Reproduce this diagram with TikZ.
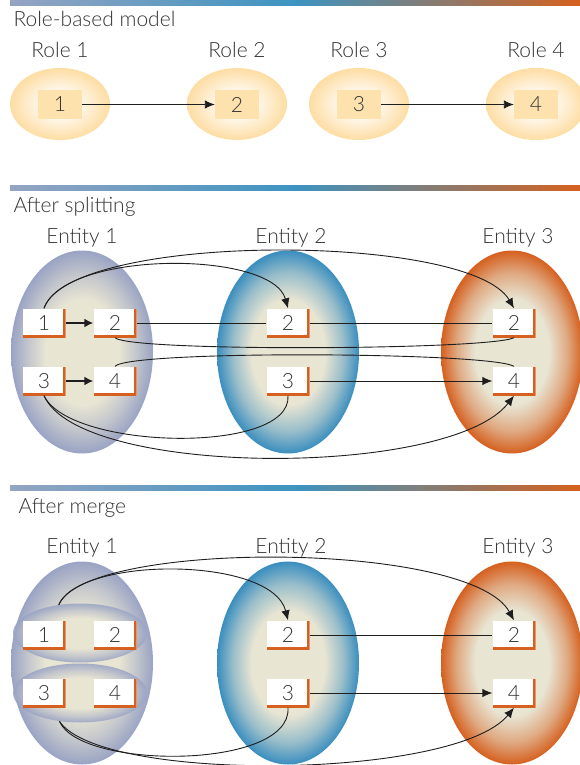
\documentclass[tikz,border=0pt]{standalone}
\usepackage{fontspec}
\setmainfont{Lato}[UprightFont={* Light}]
\usepackage{tikz}
\usetikzlibrary{shapes.geometric,arrows.meta}

\definecolor{txtgray}{HTML}{333333}
\definecolor{linegray}{HTML}{1E1E1E}
\definecolor{barleft}{HTML}{95A4C2}
\definecolor{barmid}{HTML}{3D94C1}
\definecolor{barright}{HTML}{D5611E}
\definecolor{eorange}{HTML}{D5601F}
\definecolor{eblue}{HTML}{3A8EBF}
\definecolor{egray}{HTML}{99A3C4}
\definecolor{ecream}{HTML}{E8E5D3}
\definecolor{rolefill}{HTML}{FDE2AE}
\definecolor{rolecore}{HTML}{FFF7EA}
\definecolor{roleedge}{HTML}{FDDDA3}
\colorlet{eorangemid}{eorange!45!ecream}
\colorlet{ebluemid}{eblue!45!ecream}
\colorlet{egraymid}{egray!50!ecream}

% glow of the role balls and the three entities
\pgfdeclareradialshading{roleglow}{\pgfpoint{0bp}{0bp}}{color(0bp)=(rolecore); color(10bp)=(rolecore); color(25bp)=(roleedge); color(50bp)=(roleedge)}
\pgfdeclareradialshading{entgray}{\pgfpoint{0bp}{0bp}}{color(0bp)=(ecream); color(13bp)=(ecream); color(19.5bp)=(egraymid); color(25bp)=(egray); color(50bp)=(egray)}
\pgfdeclareradialshading{entblue}{\pgfpoint{0bp}{0bp}}{color(0bp)=(ecream); color(13bp)=(ecream); color(19.5bp)=(ebluemid); color(25bp)=(eblue); color(50bp)=(eblue)}
\pgfdeclareradialshading{entorange}{\pgfpoint{0bp}{0bp}}{color(0bp)=(ecream); color(13bp)=(ecream); color(19.5bp)=(eorangemid); color(25bp)=(eorange); color(50bp)=(eorange)}

\begin{document}
\begin{tikzpicture}[x=1pt,y=-1pt,
    font=\fontsize{21}{25}\selectfont, text=txtgray,
    heading/.style={anchor=base west},
    caption/.style={anchor=base},
    roleball/.style={ellipse,inner sep=0,minimum width=100,minimum height=72,shade,shading=roleglow},
    rolebox/.style={fill=rolefill,inner sep=0,minimum width=44,minimum height=29},
    entity/.style={ellipse,inner sep=0,minimum width=142,minimum height=203,shade},
    subgroup/.style={ellipse,inner sep=0,minimum width=134,minimum height=59,shade,shading=entgray,opacity=0.85},
    ebox/.style={fill=white,inner sep=0,minimum width=43,minimum height=29,
      path picture={\draw[eorange,line width=6]
        (path picture bounding box.north east) -- (path picture bounding box.south east)
        -- (path picture bounding box.south west);}},
    wire/.style={draw=linegray,line width=0.9},
    wirearrow/.style={wire,-{Latex[length=10pt,width=8.5pt]}},
    fatarrow/.style={draw=linegray,line width=2.5,-{Latex[length=9pt,width=9pt]}},
    bar/.style={left color=barleft,right color=barright,middle color=barmid}]
  \useasboundingbox (0,0) rectangle (580,765);

  % role-based model
  \shade[bar] (10,0) rectangle (580,6);
  \node[heading] (rtitle) at (10,27) {Role-based model};
  \foreach \i/\x in {1/60,2/237,3/359,4/536} {
    \node[roleball] (rball\i) at (\x,104) {};
    \node[rolebox] (rbox\i) at (\x,104.5) {\i};
    \node[caption] (rlabel\i) at (\x,58) {Role \i};
  }
  \draw[wirearrow] (rbox1) -- (rbox2);
  \draw[wirearrow] (rbox3) -- (rbox4);

  % after splitting
  \shade[bar] (10,185) rectangle (580,190);
  \node[heading] (stitle) at (10,212) {After splitting};
  \node[entity,shading=entgray] (sent1) at (82,352) {};
  \node[entity,shading=entblue] (sent2) at (288,352) {};
  \node[entity,shading=entorange] (sent3) at (512,352) {};
  \node[caption] (slabel1) at (82,243) {Entity 1};
  \node[caption] (slabel2) at (291,243) {Entity 2};
  \node[caption] (slabel3) at (518,243) {Entity 3};
  \node[ebox] (s11) at (44,323) {1};
  \node[ebox] (s12) at (115,323) {2};
  \node[ebox] (s13) at (44,381) {3};
  \node[ebox] (s14) at (115,381) {4};
  \node[ebox] (s22) at (288,323) {2};
  \node[ebox] (s23) at (288,381) {3};
  \node[ebox] (s32) at (514,323) {2};
  \node[ebox] (s34) at (514,381) {4};
  \draw[fatarrow] (s11) -- (s12);
  \draw[fatarrow] (s13) -- (s14);
  \draw[wirearrow] (s11.north) .. controls (65,250) and (272,250) .. (s22.north);
  \draw[wirearrow] (s11.north) .. controls (70,232) and (470,232) .. (s32.north);
  \draw[wire] (s12) -- (s22);
  \draw[wire] (s22) -- (s32);
  \draw[wire] (s12.south) .. controls (130,352) and (490,350) .. (s32.south);
  \draw[wire] (s14.north) .. controls (130,350) and (490,352) .. (s34.north);
  \draw[wirearrow] (s23) -- (s34);
  \draw[wire] (s13.south) .. controls (70,450) and (292,455) .. (s23.south);
  \draw[wirearrow] (s13.south) .. controls (80,478) and (450,478) .. (s34.south);

  % after merge
  \shade[bar] (10,485) rectangle (580,490);
  \node[heading] (mtitle) at (15,513) {After merge};
  \node[entity,shading=entgray] (ment1) at (82,663) {};
  \node[entity,shading=entblue] (ment2) at (288,663) {};
  \node[entity,shading=entorange] (ment3) at (512,663) {};
  \node[caption] (mlabel1) at (82,553) {Entity 1};
  \node[caption] (mlabel2) at (291,553) {Entity 2};
  \node[caption] (mlabel3) at (518,553) {Entity 3};
  \node[subgroup] (mup) at (80,633) {};
  \node[subgroup] (mlow) at (80,693) {};
  \node[ebox] (m11) at (44,635) {1};
  \node[ebox] (m12) at (115,635) {2};
  \node[ebox] (m13) at (44,693) {3};
  \node[ebox] (m14) at (115,693) {4};
  \node[ebox] (m22) at (288,635) {2};
  \node[ebox] (m23) at (288,693) {3};
  \node[ebox] (m32) at (514,635) {2};
  \node[ebox] (m34) at (514,693) {4};
  \draw[wirearrow] (mup.127) .. controls (80,556) and (272,556) .. (m22.north);
  \draw[wirearrow] (mup.127) .. controls (85,540) and (470,540) .. (m32.north);
  \draw[wire] (m22) -- (m32);
  \draw[wirearrow] (m23) -- (m34);
  \draw[wire] (mlow.234) .. controls (80,770) and (292,770) .. (m23.south);
  \draw[wirearrow] (mlow.234) .. controls (100,783) and (455,780) .. (m34.south);
\end{tikzpicture}
\end{document}
